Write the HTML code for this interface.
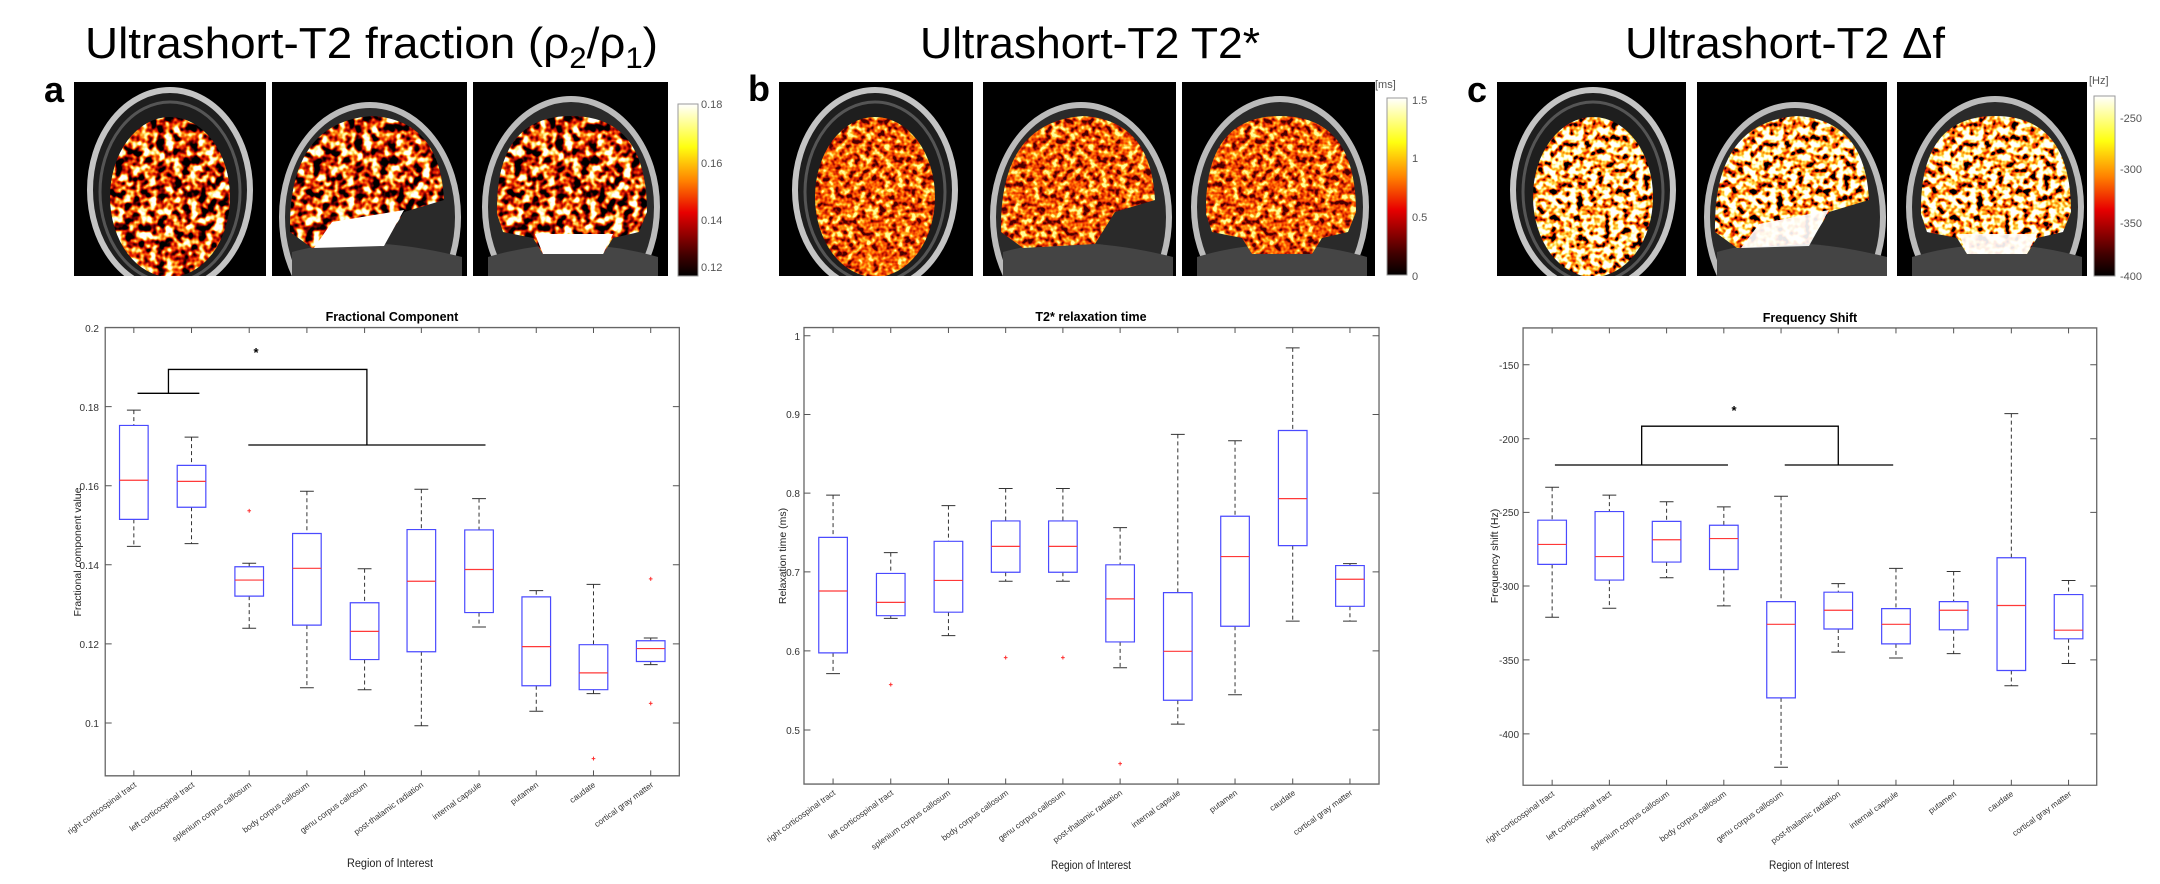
<!DOCTYPE html>
<html><head><meta charset="utf-8"><style>
html,body{margin:0;padding:0;background:#fff}
svg{display:block}
.w{fill:none;stroke:#333;stroke-width:1;stroke-dasharray:4 3;vector-effect:non-scaling-stroke}
.c{fill:none;stroke:#333;stroke-width:1;vector-effect:non-scaling-stroke}
.bx{fill:none;stroke:#4a4aff;stroke-width:1.2;vector-effect:non-scaling-stroke}
.m{fill:none;stroke:#ff3838;stroke-width:1.2;vector-effect:non-scaling-stroke}
.o{fill:none;stroke:#ff3030;stroke-width:1;vector-effect:non-scaling-stroke}
.ax{fill:none;stroke:#666;stroke-width:1.3;vector-effect:non-scaling-stroke}
.tk{fill:none;stroke:#555;stroke-width:1;vector-effect:non-scaling-stroke}
.br{fill:none;stroke:#000;stroke-width:1.3;vector-effect:non-scaling-stroke}
text{font-family:"Liberation Sans",sans-serif}
.yt{font-size:10px;fill:#333;text-anchor:end}
.cl{font-size:8.3px;fill:#333;text-anchor:end}
.ti{font-size:12.5px;font-weight:bold;text-anchor:middle}
.xl{font-size:11.5px;fill:#222;text-anchor:middle}
.yl{font-size:10.5px;fill:#222;text-anchor:middle}
.big{font-family:"Liberation Sans",sans-serif;font-size:44px}
.let{font-size:36px;font-weight:bold}
.cb{font-size:11px;fill:#555}
</style></head><body>
<svg width="2160" height="884" viewBox="0 0 2160 884" xmlns="http://www.w3.org/2000/svg">
<defs>
<linearGradient id="hot" x1="0" y1="1" x2="0" y2="0">
<stop offset="0" stop-color="#000"/><stop offset="0.12" stop-color="#400000"/><stop offset="0.37" stop-color="#e80000"/><stop offset="0.55" stop-color="#ff8000"/><stop offset="0.75" stop-color="#ffff10"/><stop offset="1" stop-color="#fff"/>
</linearGradient>
<filter id="hotA" x="0" y="0" width="1" height="1" color-interpolation-filters="sRGB">
<feTurbulence type="fractalNoise" baseFrequency="0.12" numOctaves="2" seed="4" result="n"/>
<feColorMatrix in="n" type="matrix" values="3 0 0 0 -1.05  3 0 0 0 -1.05  3 0 0 0 -1.05  0 0 0 0 1"/>
<feComponentTransfer><feFuncR type="table" tableValues="0 0.45 0.9 1 1 1"/><feFuncG type="table" tableValues="0 0 0.1 0.55 0.95 1"/><feFuncB type="table" tableValues="0 0 0 0.05 0.5 1"/></feComponentTransfer>
<feComposite operator="in" in2="SourceGraphic"/>
</filter>
<filter id="hotB" x="0" y="0" width="1" height="1" color-interpolation-filters="sRGB">
<feTurbulence type="fractalNoise" baseFrequency="0.16" numOctaves="2" seed="7" result="n"/>
<feColorMatrix in="n" type="matrix" values="2.5 0 0 0 -0.75  2.5 0 0 0 -0.75  2.5 0 0 0 -0.75  0 0 0 0 1"/>
<feComponentTransfer><feFuncR type="table" tableValues="0.3 0.8 1 1 1"/><feFuncG type="table" tableValues="0 0.1 0.35 0.7 1"/><feFuncB type="table" tableValues="0 0 0 0.1 0.6"/></feComponentTransfer>
<feComposite operator="in" in2="SourceGraphic"/>
</filter>
<filter id="hotC" x="0" y="0" width="1" height="1" color-interpolation-filters="sRGB">
<feTurbulence type="fractalNoise" baseFrequency="0.15" numOctaves="2" seed="11" result="n"/>
<feColorMatrix in="n" type="matrix" values="3 0 0 0 -0.9  3 0 0 0 -0.9  3 0 0 0 -0.9  0 0 0 0 1"/>
<feComponentTransfer><feFuncR type="table" tableValues="0 0.9 1 1 1 1"/><feFuncG type="table" tableValues="0 0.1 0.45 0.8 1 1"/><feFuncB type="table" tableValues="0 0 0 0.2 0.7 1"/></feComponentTransfer>
<feComposite operator="in" in2="SourceGraphic"/>
</filter>
<g id="skAx"><rect width="200" height="200" fill="#000"/><ellipse cx="96" cy="108" rx="80" ry="100" fill="#1e1e1e" stroke="#c4c4c4" stroke-width="6"/><ellipse cx="96" cy="110" rx="70" ry="90" fill="none" stroke="#555" stroke-width="3"/></g>
<g id="skSag"><rect width="200" height="200" fill="#000"/><ellipse cx="98" cy="135" rx="88" ry="112" fill="#2a2a2a" stroke="#bbb" stroke-width="6"/><path d="M20 170 Q90 150 190 175 L190 200 L20 200Z" fill="#444"/></g>
<g id="skCor"><rect width="200" height="200" fill="#000"/><ellipse cx="98" cy="125" rx="86" ry="108" fill="#2a2a2a" stroke="#bbb" stroke-width="6"/><path d="M15 175 Q98 150 185 175 L185 200 L15 200Z" fill="#454545"/></g>
<ellipse id="brAx" cx="96" cy="115" rx="60" ry="80"/>
<path id="brSag" d="M18 150 Q16 40 100 34 Q168 38 172 118 L132 130 L112 162 L40 166 Z"/>
<path id="brCor" d="M24 132 Q22 34 98 34 Q174 34 174 130 L166 150 L140 156 L130 172 L70 172 L60 156 L30 150Z"/>
</defs>

<text class="big" x="85" y="58" textLength="573" lengthAdjust="spacingAndGlyphs">Ultrashort-T2 fraction (ρ<tspan font-size="30" dy="10">2</tspan><tspan dy="-10">/ρ</tspan><tspan font-size="30" dy="10">1</tspan><tspan dy="-10">)</tspan></text>
<text class="big" x="920" y="58" textLength="340" lengthAdjust="spacingAndGlyphs">Ultrashort-T2 T2*</text>
<text class="big" x="1625" y="58" textLength="320" lengthAdjust="spacingAndGlyphs">Ultrashort-T2 Δf</text>
<text class="let" x="44" y="102">a</text>
<text class="let" x="748" y="101">b</text>
<text class="let" x="1467" y="102">c</text>

<svg x="74" y="82" width="192" height="194" viewBox="0 0 192 194"><use href="#skAx"/><use href="#brAx" filter="url(#hotA)"/></svg>
<svg x="272" y="82" width="195" height="194" viewBox="0 0 195 194"><use href="#skSag"/><use href="#brSag" filter="url(#hotA)"/><path d="M60 140 L132 128 L112 164 L42 166Z" fill="#fff"/></svg>
<svg x="473" y="82" width="195" height="194" viewBox="0 0 195 194"><use href="#skCor"/><use href="#brCor" filter="url(#hotA)"/><path d="M62 152 L140 152 L130 172 L70 172Z" fill="#fff"/></svg>
<rect x="678" y="104" width="20" height="172" fill="url(#hot)" stroke="#999"/>
<text class="cb" x="701" y="108">0.18</text><text class="cb" x="701" y="167">0.16</text><text class="cb" x="701" y="224">0.14</text><text class="cb" x="701" y="271">0.12</text>

<svg x="779" y="82" width="194" height="194" viewBox="0 0 194 194"><use href="#skAx"/><use href="#brAx" filter="url(#hotB)"/></svg>
<svg x="983" y="82" width="193" height="194" viewBox="0 0 193 194"><use href="#skSag"/><use href="#brSag" filter="url(#hotB)"/></svg>
<svg x="1182" y="82" width="193" height="194" viewBox="0 0 193 194"><use href="#skCor"/><use href="#brCor" filter="url(#hotB)"/></svg>
<rect x="1387" y="98" width="20" height="177" fill="url(#hot)" stroke="#999"/>
<text class="cb" x="1375" y="88" fill="#333">[ms]</text>
<text class="cb" x="1412" y="104">1.5</text><text class="cb" x="1412" y="162">1</text><text class="cb" x="1412" y="221">0.5</text><text class="cb" x="1412" y="280">0</text>

<svg x="1497" y="82" width="189" height="194" viewBox="0 0 189 194"><use href="#skAx"/><use href="#brAx" filter="url(#hotC)"/></svg>
<svg x="1697" y="82" width="190" height="194" viewBox="0 0 190 194"><use href="#skSag"/><use href="#brSag" filter="url(#hotC)"/><path d="M62 142 L132 128 L112 164 L44 166Z" fill="#fff" opacity="0.9"/></svg>
<svg x="1897" y="82" width="190" height="194" viewBox="0 0 190 194"><use href="#skCor"/><use href="#brCor" filter="url(#hotC)"/><path d="M62 152 L140 152 L130 172 L70 172Z" fill="#fff" opacity="0.9"/></svg>
<rect x="2094" y="96" width="21" height="180" fill="url(#hot)" stroke="#999"/>
<text class="cb" x="2089" y="84" fill="#333" font-size="13">[Hz]</text>
<text class="cb" x="2120" y="122">-250</text><text class="cb" x="2120" y="173">-300</text><text class="cb" x="2120" y="227">-350</text><text class="cb" x="2120" y="280">-400</text>

<g transform="translate(0,270) scale(0.4615,0.3915)">
<rect class="ax" x="228" y="147" width="1244" height="1145"/>
<path class="tk" d="M290 1292v-14M415 1292v-14M540 1292v-14M665 1292v-14M790 1292v-14M913 1292v-14M1038 1292v-14M1162 1292v-14M1286 1292v-14M1410 1292v-14M290 147v14M415 147v14M540 147v14M665 147v14M790 147v14M913 147v14M1038 147v14M1162 147v14M1286 147v14M1410 147v14M228 349h14M228 551h14M228 753h14M228 955h14M228 1157h14M1472 349h-14M1472 551h-14M1472 753h-14M1472 955h-14M1472 1157h-14"/>
<path class="w" d="M290 358V397M290 637V706M415 427V499M415 606V699M540 749V758M540 833V915M665 565V673M665 907V1067M790 763V850M790 995V1072M913 560V663M913 975V1164M1038 584V664M1038 875V912M1162 819V835M1162 1062V1127M1286 803V957M1286 1072V1082M1410 940V947M1410 1000V1008"/>
<path class="c" d="M275 358h30M275 706h30M400 427h30M400 699h30M525 749h30M525 915h30M650 565h30M650 1067h30M775 763h30M775 1072h30M898 560h30M898 1164h30M1023 584h30M1023 912h30M1147 819h30M1147 1127h30M1271 803h30M1271 1082h30M1395 940h30M1395 1008h30"/>
<path class="bx" d="M259 397h62v240h-62zM384 499h62v107h-62zM509 758h62v75h-62zM634 673h62v234h-62zM759 850h62v145h-62zM882 663h62v312h-62zM1007 664h62v211h-62zM1131 835h62v227h-62zM1255 957h62v115h-62zM1379 947h62v53h-62z"/>
<path class="m" d="M259 537h62M384 540h62M509 792h62M634 762h62M759 923h62M882 795h62M1007 765h62M1131 962h62M1255 1029h62M1379 967h62"/>
<path class="o" d="M536 615h8M540 610v10M1282 1248h8M1286 1243v10M1406 789h8M1410 784v10M1406 1107h8M1410 1102v10"/>
<path class="br" d="M298 315H432M365 315V254H795V447M538 447H1052"/>
</g>
<text x="256" y="357" font-size="13" font-weight="bold" text-anchor="middle">*</text>
<text class="ti" x="392" y="321">Fractional Component</text>
<g class="yt"><text x="99" y="332">0.2</text><text x="99" y="411">0.18</text><text x="99" y="490">0.16</text><text x="99" y="569">0.14</text><text x="99" y="648">0.12</text><text x="99" y="727">0.1</text></g>
<text class="yl" transform="translate(81,552) rotate(-90)">Fractional component value</text>
<text class="xl" x="390" y="867" textLength="86" lengthAdjust="spacingAndGlyphs">Region of Interest</text>
<g class="cl">
<text transform="translate(137,786) rotate(-36)">right corticospinal tract</text>
<text transform="translate(195,786) rotate(-36)">left corticospinal tract</text>
<text transform="translate(252,786) rotate(-36)">splenium corpus callosum</text>
<text transform="translate(310,786) rotate(-36)">body corpus callosum</text>
<text transform="translate(368,786) rotate(-36)">genu corpus callosum</text>
<text transform="translate(424,786) rotate(-36)">post-thalamic radiation</text>
<text transform="translate(482,786) rotate(-36)">internal capsule</text>
<text transform="translate(539,786) rotate(-36)">putamen</text>
<text transform="translate(596,786) rotate(-36)">caudate</text>
<text transform="translate(654,786) rotate(-36)">cortical gray matter</text>
</g>

<g transform="translate(720,270) scale(0.4615,0.3915)">
<rect class="ax" x="182" y="147" width="1246" height="1166"/>
<path class="tk" d="M245 1313v-14M370 1313v-14M495 1313v-14M619 1313v-14M743 1313v-14M867 1313v-14M992 1313v-14M1116 1313v-14M1241 1313v-14M1365 1313v-14M245 147v14M370 147v14M495 147v14M619 147v14M743 147v14M867 147v14M992 147v14M1116 147v14M1241 147v14M1365 147v14M182 168h14M182 369h14M182 570h14M182 771h14M182 973h14M182 1175h14M1428 168h-14M1428 369h-14M1428 570h-14M1428 771h-14M1428 973h-14M1428 1175h-14"/>
<path class="w" d="M245 575V683M245 978V1031M370 722V775M370 883V890M495 602V693M495 874V934M619 558V641M619 772V795M743 558V641M743 772V795M867 658V753M867 950V1016M992 420V824M992 1099V1160M1116 436V629M1116 910V1085M1241 199V410M1241 704V897M1365 750V755M1365 859V897"/>
<path class="c" d="M230 575h30M230 1031h30M355 722h30M355 890h30M480 602h30M480 934h30M604 558h30M604 795h30M728 558h30M728 795h30M852 658h30M852 1016h30M977 420h30M977 1160h30M1101 436h30M1101 1085h30M1226 199h30M1226 897h30M1350 750h30M1350 897h30"/>
<path class="bx" d="M214 683h62v295h-62zM339 775h62v108h-62zM464 693h62v181h-62zM588 641h62v131h-62zM712 641h62v131h-62zM836 753h62v197h-62zM961 824h62v275h-62zM1085 629h62v281h-62zM1210 410h62v294h-62zM1334 755h62v104h-62z"/>
<path class="m" d="M214 820h62M339 849h62M464 793h62M588 706h62M712 706h62M836 840h62M961 974h62M1085 732h62M1210 584h62M1334 790h62"/>
<path class="o" d="M366 1059h8M370 1054v10M615 990h8M619 985v10M739 990h8M743 985v10M863 1261h8M867 1256v10"/>
</g>
<text class="ti" x="1091" y="321">T2* relaxation time</text>
<g class="yt"><text x="800" y="340">1</text><text x="800" y="418">0.9</text><text x="800" y="497">0.8</text><text x="800" y="576">0.7</text><text x="800" y="655">0.6</text><text x="800" y="734">0.5</text></g>
<text class="yl" transform="translate(786,556) rotate(-90)">Relaxation time (ms)</text>
<text class="xl" x="1091" y="869" textLength="80" lengthAdjust="spacingAndGlyphs">Region of Interest</text>
<g class="cl">
<text transform="translate(836,794) rotate(-36)">right corticospinal tract</text>
<text transform="translate(894,794) rotate(-36)">left corticospinal tract</text>
<text transform="translate(951,794) rotate(-36)">splenium corpus callosum</text>
<text transform="translate(1009,794) rotate(-36)">body corpus callosum</text>
<text transform="translate(1066,794) rotate(-36)">genu corpus callosum</text>
<text transform="translate(1123,794) rotate(-36)">post-thalamic radiation</text>
<text transform="translate(1181,794) rotate(-36)">internal capsule</text>
<text transform="translate(1238,794) rotate(-36)">putamen</text>
<text transform="translate(1296,794) rotate(-36)">caudate</text>
<text transform="translate(1353,794) rotate(-36)">cortical gray matter</text>
</g>

<g transform="translate(1440,270) scale(0.4615,0.3915)">
<rect class="ax" x="180" y="148" width="1243" height="1168"/>
<path class="tk" d="M243 1316v-14M367 1316v-14M491 1316v-14M615 1316v-14M739 1316v-14M863 1316v-14M988 1316v-14M1113 1316v-14M1238 1316v-14M1362 1316v-14M243 148v14M367 148v14M491 148v14M615 148v14M739 148v14M863 148v14M988 148v14M1113 148v14M1238 148v14M1362 148v14M180 242h14M180 431h14M180 619h14M180 807h14M180 996h14M180 1185h14M1423 242h-14M1423 431h-14M1423 619h-14M1423 807h-14M1423 996h-14M1423 1185h-14"/>
<path class="w" d="M243 555V639M243 752V887M367 575V617M367 792V864M491 592V642M491 746V786M615 605V652M615 765V858M739 578V847M739 1093V1270M863 801V823M863 917V976M988 762V865M988 955V991M1113 770V847M1113 919V980M1238 367V735M1238 1023V1062M1362 793V829M1362 942V1005"/>
<path class="c" d="M228 555h30M228 887h30M352 575h30M352 864h30M476 592h30M476 786h30M600 605h30M600 858h30M724 578h30M724 1270h30M848 801h30M848 976h30M973 762h30M973 991h30M1098 770h30M1098 980h30M1223 367h30M1223 1062h30M1347 793h30M1347 1005h30"/>
<path class="bx" d="M212 639h62v113h-62zM336 617h62v175h-62zM460 642h62v104h-62zM584 652h62v113h-62zM708 847h62v246h-62zM832 823h62v94h-62zM957 865h62v90h-62zM1082 847h62v72h-62zM1207 735h62v288h-62zM1331 829h62v113h-62z"/>
<path class="m" d="M212 701h62M336 732h62M460 689h62M584 686h62M708 905h62M832 869h62M957 905h62M1082 869h62M1207 857h62M1331 920h62"/>
<path class="br" d="M249 498H624M747 498H982M437 498V399H863V498"/>
</g>
<text x="1734" y="415" font-size="13" font-weight="bold" text-anchor="middle">*</text>
<text class="ti" x="1810" y="322">Frequency Shift</text>
<g class="yt"><text x="1519" y="369">-150</text><text x="1519" y="443">-200</text><text x="1519" y="516">-250</text><text x="1519" y="590">-300</text><text x="1519" y="664">-350</text><text x="1519" y="738">-400</text></g>
<text class="yl" transform="translate(1498,556) rotate(-90)">Frequency shift (Hz)</text>
<text class="xl" x="1809" y="869" textLength="80" lengthAdjust="spacingAndGlyphs">Region of Interest</text>
<g class="cl">
<text transform="translate(1555,795) rotate(-36)">right corticospinal tract</text>
<text transform="translate(1612,795) rotate(-36)">left corticospinal tract</text>
<text transform="translate(1670,795) rotate(-36)">splenium corpus callosum</text>
<text transform="translate(1727,795) rotate(-36)">body corpus callosum</text>
<text transform="translate(1784,795) rotate(-36)">genu corpus callosum</text>
<text transform="translate(1841,795) rotate(-36)">post-thalamic radiation</text>
<text transform="translate(1899,795) rotate(-36)">internal capsule</text>
<text transform="translate(1957,795) rotate(-36)">putamen</text>
<text transform="translate(2014,795) rotate(-36)">caudate</text>
<text transform="translate(2072,795) rotate(-36)">cortical gray matter</text>
</g>
</svg>
</body></html>
